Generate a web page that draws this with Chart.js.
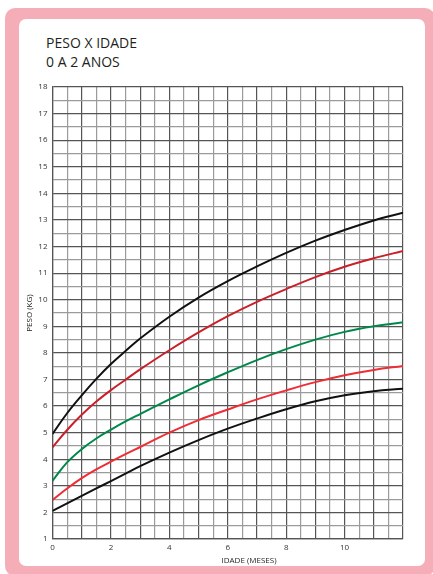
<!DOCTYPE html>
<html>
<head>
<meta charset="utf-8">
<script src="https://cdn.jsdelivr.net/npm/chart.js@4/dist/chart.umd.min.js"></script>
<style>
  body { margin: 0; background: #fff; width: 433px; height: 574px; position: relative; overflow: hidden; }
  .frame { position: absolute; left: 5px; top: 8px; width: 430px; height: 568px; background: #f5aeb8; border-radius: 10px; }
  .card { position: absolute; left: 19px; top: 19px; width: 406px; height: 547px; background: #fff; border-radius: 7px; }
  .title { position: absolute; left: 46px; top: 33px; font-family: "Open Sans", "Noto Sans", sans-serif; font-size: 14px; line-height: 19px; color: #231f20; }
  canvas { position: absolute; left: 0; top: 0; }
</style>
</head>
<body>
<div class="frame"></div>
<div class="card"></div>
<div class="title">PESO X IDADE<br>0 A 2 ANOS</div>
<canvas id="chart" width="433" height="574"></canvas>
<script>
// idade em meses
const ages = [0, 0.5, 1, 1.5, 2, 2.5, 3, 4, 5, 6, 7, 8, 9, 10, 11, 12];

// curvas de peso (kg)
const plus3 = [4.95, 5.73, 6.4, 7.02, 7.58, 8.07, 8.54, 9.36, 10.08, 10.7, 11.25, 11.76, 12.22, 12.62, 12.98, 13.27];
const plus2 = [4.45, 5.1, 5.67, 6.17, 6.6, 6.99, 7.38, 8.1, 8.77, 9.38, 9.92, 10.4, 10.85, 11.24, 11.56, 11.83];
const median = [3.19, 3.88, 4.38, 4.78, 5.11, 5.42, 5.7, 6.25, 6.78, 7.27, 7.73, 8.14, 8.5, 8.79, 9.0, 9.15];
const minus2 = [2.47, 2.9, 3.29, 3.62, 3.91, 4.19, 4.46, 5.0, 5.47, 5.87, 6.25, 6.59, 6.9, 7.16, 7.36, 7.51];
const minus3 = [2.06, 2.34, 2.62, 2.9, 3.18, 3.46, 3.74, 4.25, 4.72, 5.15, 5.53, 5.88, 6.18, 6.41, 6.56, 6.65];

const xLabels = [0, 2, 4, 6, 8, 10];
const yLabels = [1, 2, 3, 4, 5, 6, 7, 8, 9, 10, 11, 12, 13, 14, 15, 16, 17, 18];

function pts(vals) {
  return vals.map((v, i) => ({ x: ages[i], y: v }));
}

function line(vals, color) {
  return {
    data: pts(vals),
    borderColor: color,
    borderWidth: 2,
    pointRadius: 0,
    fill: false,
    tension: 0.4
  };
}

const tickFont = { family: 'Open Sans, Noto Sans, sans-serif', size: 8 };

function gridColor(ctx) {
  return Number.isInteger(ctx.tick.value) ? '#555555' : '#9b9b9b';
}

const xTitle = {
  id: 'xTitle',
  afterDraw(chart) {
    const c = chart.ctx;
    c.save();
    c.font = '8px "Open Sans", "Noto Sans", sans-serif';
    c.fillStyle = '#231f20';
    c.textAlign = 'center';
    c.textBaseline = 'middle';
    c.fillText('IDADE (MESES)', 249, 561);
    c.restore();
  }
};

new Chart(document.getElementById('chart'), {
  type: 'line',
  data: {
    datasets: [
      line(plus3, '#111111'),
      line(plus2, '#c9202a'),
      line(median, '#00884a'),
      line(minus2, '#ee2d35'),
      line(minus3, '#111111')
    ]
  },
  options: {
    responsive: false,
    animation: false,
    layout: { padding: { top: 87, right: 30, left: 0, bottom: 0 } },
    plugins: { legend: { display: false }, tooltip: { enabled: false } },
    scales: {
      x: {
        type: 'linear',
        min: 0,
        max: 12,
        afterFit: s => { s.height = 35; },
        ticks: {
          stepSize: 0.5,
          autoSkip: false,
          maxRotation: 0,
          padding: 4,
          color: '#333333',
          font: tickFont,
          callback: v => xLabels.includes(v) ? String(v) : ''
        },
        grid: { color: gridColor, lineWidth: 1.2, drawTicks: false },
        border: { color: '#555555', width: 1.2 }
      },
      y: {
        min: 1,
        max: 18,
        afterFit: s => { s.width = 52.5; },
        ticks: {
          stepSize: 0.5,
          autoSkip: false,
          padding: 5,
          color: '#333333',
          font: tickFont,
          callback: v => yLabels.includes(v) ? String(v) : ''
        },
        grid: { color: gridColor, lineWidth: 1.2, drawTicks: false },
        border: { color: '#555555', width: 1.2 },
        title: {
          display: true,
          text: 'PESO (KG)',
          color: '#231f20',
          font: tickFont,
          padding: { top: 25, bottom: 0 }
        }
      }
    }
  },
  plugins: [xTitle]
});
</script>
</body>
</html>
